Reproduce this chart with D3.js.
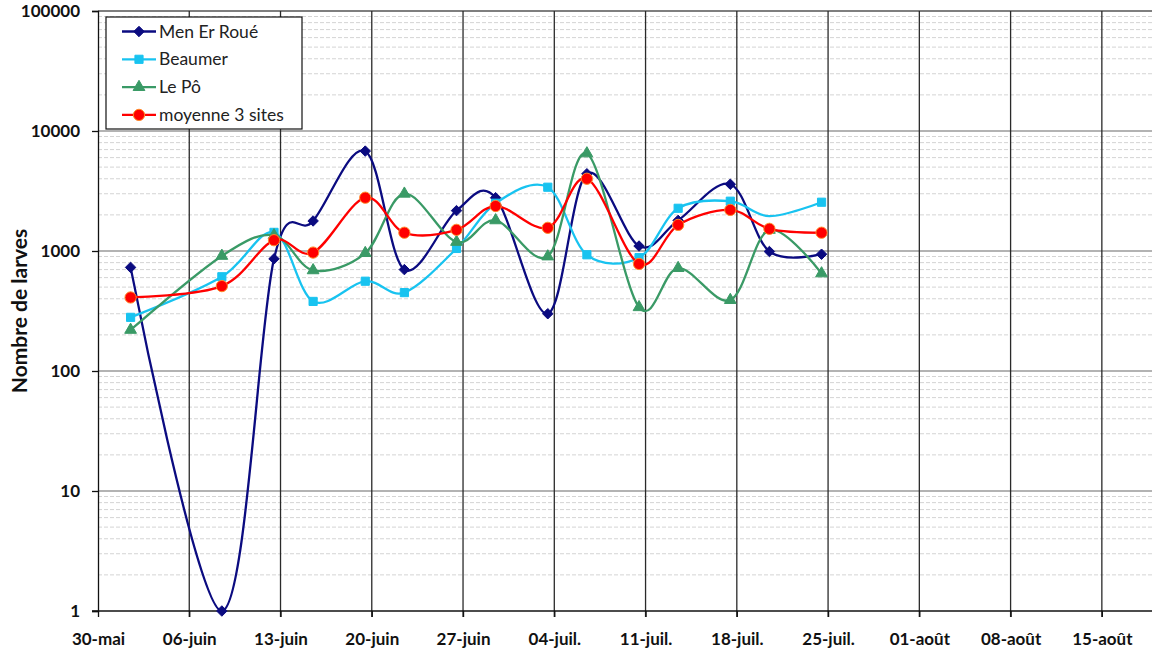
<!DOCTYPE html>
<html>
<head>
<meta charset="utf-8">
<script src="https://cdn.jsdelivr.net/npm/d3@7"></script>
<style>
  body { margin: 0; background: #fff; }
  text { font-family: Lato, "Open Sans", sans-serif; }
</style>
</head>
<body>
<div id="chart"></div>
<script>
// sample dates (day/month) and larvae counts per site
const dates = ["2021-06-01", "2021-06-08", "2021-06-12", "2021-06-15", "2021-06-19", "2021-06-22", "2021-06-26",
               "2021-06-29", "2021-07-03", "2021-07-06", "2021-07-10", "2021-07-13", "2021-07-17", "2021-07-20", "2021-07-24"];
const menErRoue = [730, 1, 860, 1780, 6800, 700, 2170, 2780, 300, 4400, 1100, 1800, 3600, 990, 940];
const beaumer   = [280, 610, 1430, 380, 560, 450, 1050, 2500, 3400, 930, 880, 2270, 2600, 1950, 2550];
const lePo      = [220, 910, 1350, 690, 960, 3000, 1190, 1800, 900, 6500, 340, 720, 390, 1500, 650];
const moyenne   = [410, 510, 1230, 970, 2780, 1420, 1500, 2370, 1560, 4000, 780, 1650, 2200, 1530, 1420];
const beaumerNoMarker = [13];   // point drawn without marker in the original

const seriesNames = ["Men Er Roué", "Beaumer", "Le Pô", "moyenne 3 sites"];
const yTicks = [1, 10, 100, 1000, 10000, 100000];
const xStart = "2021-05-30", xLastTick = "2021-08-15", xEnd = "2021-08-19";

const width = 1152, height = 652;
const margin = {top: 11, right: -2, bottom: 40, left: 98};

const svg = d3.select("#chart").append("svg")
    .attr("width", width)
    .attr("height", height);

const parse = d3.timeParse("%Y-%m-%d");
const fr = d3.timeFormatLocale({
    dateTime: "%A %e %B %Y à %X", date: "%d/%m/%Y", time: "%H:%M:%S", periods: ["AM", "PM"],
    days: ["dimanche", "lundi", "mardi", "mercredi", "jeudi", "vendredi", "samedi"],
    shortDays: ["dim.", "lun.", "mar.", "mer.", "jeu.", "ven.", "sam."],
    months: ["janvier", "février", "mars", "avril", "mai", "juin", "juillet", "août", "septembre", "octobre", "novembre", "décembre"],
    shortMonths: ["janv.", "févr.", "mars", "avr.", "mai", "juin", "juil.", "août", "sept.", "oct.", "nov.", "déc."]
});
const fmt = fr.format("%d-%b");

const x = d3.scaleTime()
    .domain([parse(xStart), parse(xEnd)])
    .range([margin.left, width - margin.right]);
const y = d3.scaleLog()
    .domain([1, 100000])
    .range([height - margin.bottom - 1, margin.top]);

// Excel date axis: points sit in the middle of their day
const xPos = d => x(d3.timeHour.offset(parse(d), 12));

// weekly ticks from 30-mai to 15-août
const weekTicks = [];
for (let t = parse(xStart); t <= parse(xLastTick); t = d3.timeDay.offset(t, 7)) weekTicks.push(t);

// minor grid (2..9 of each decade)
const minor = [];
for (let p = 0; p < 5; p++) for (let k = 2; k <= 9; k++) minor.push(k * Math.pow(10, p));

const grid = svg.append("g");
grid.selectAll(".minor").data(minor).enter().append("line")
    .attr("x1", margin.left).attr("x2", width)
    .attr("y1", d => y(d)).attr("y2", d => y(d))
    .attr("stroke", "#d4d4d4").attr("stroke-width", 1)
    .attr("stroke-dasharray", "4,2");
grid.selectAll(".major").data(yTicks.slice(1)).enter().append("line")
    .attr("x1", margin.left).attr("x2", width)
    .attr("y1", d => y(d)).attr("y2", d => y(d))
    .attr("stroke", d => d === 100000 ? "#555" : "#9a9a9a").attr("stroke-width", 1.3);
grid.selectAll(".vert").data(weekTicks.slice(1)).enter().append("line")
    .attr("x1", d => x(d)).attr("x2", d => x(d))
    .attr("y1", margin.top).attr("y2", y(1) + 6)
    .attr("stroke", "#2a2a2a").attr("stroke-width", 1.3);

// axes
const yAxis = d3.axisLeft(y).tickValues(yTicks).tickFormat(d3.format("d")).tickSize(6).tickPadding(12);
const gy = svg.append("g").attr("transform", "translate(" + margin.left + ",0)").call(yAxis);
gy.select(".domain").attr("stroke", "#111").attr("stroke-width", 1.3);
gy.selectAll(".tick line").attr("stroke", "#111").attr("stroke-width", 1.3);
gy.selectAll("text").attr("font-size", 17).attr("font-weight", "bold").attr("fill", "#111")
    .attr("font-family", "Lato, sans-serif");

const xAxis = d3.axisBottom(x).tickValues(weekTicks).tickFormat(fmt).tickSize(6).tickPadding(16);
const gx = svg.append("g").attr("transform", "translate(0," + y(1) + ")").call(xAxis);
gx.select(".domain").attr("d", "M" + (margin.left - 6) + ",0H" + width).attr("stroke", "#111").attr("stroke-width", 1.3);
gx.selectAll(".tick line").attr("stroke", "#111").attr("stroke-width", 1.3);
gx.selectAll("text").attr("font-size", 17).attr("font-weight", "bold").attr("fill", "#111")
    .attr("font-family", "Lato, sans-serif");

svg.append("text")
    .attr("transform", "translate(27," + ((margin.top + y(1)) / 2) + ") rotate(-90)")
    .attr("text-anchor", "middle")
    .attr("font-size", 21).attr("font-weight", "bold").attr("fill", "#111")
    .text("Nombre de larves");

// series
const series = [
    {name: seriesNames[0], values: menErRoue, color: "#0b0b80", marker: "diamond"},
    {name: seriesNames[1], values: beaumer, color: "#18c3f0", marker: "square", skip: beaumerNoMarker},
    {name: seriesNames[2], values: lePo, color: "#3a9a66", marker: "triangle"},
    {name: seriesNames[3], values: moyenne, color: "#ff0000", marker: "circle"}
];

const symbols = {
    diamond: d3.symbol().type(d3.symbolDiamond2).size(70),
    square: d3.symbol().type(d3.symbolSquare2).size(85),
    triangle: d3.symbol().type(d3.symbolTriangle).size(60),
    circle: d3.symbol().type(d3.symbolCircle).size(100)
};

const line = d3.line()
    .x((v, i) => xPos(dates[i]))
    .y(v => y(v))
    .curve(d3.curveCardinal.tension(0));

function drawMarker(sel, s) {
    sel.append("path")
        .attr("d", symbols[s.marker]())
        .attr("fill", s.color)
        .attr("stroke", s.marker === "circle" ? "#ff8a2a" : s.color)
        .attr("stroke-width", 1);
}

series.forEach(s => {
    const g = svg.append("g");
    g.append("path")
        .attr("d", line(s.values))
        .attr("fill", "none")
        .attr("stroke", s.color)
        .attr("stroke-width", 2.3);
    s.values.forEach((v, i) => {
        if (s.skip && s.skip.includes(i)) return;
        const m = g.append("g").attr("transform", "translate(" + xPos(dates[i]) + "," + y(v) + ")");
        drawMarker(m, s);
    });
});

// legend
const legend = svg.append("g").attr("transform", "translate(106,17)");
legend.append("rect")
    .attr("width", 196).attr("height", 112)
    .attr("fill", "#fff").attr("stroke", "#111").attr("stroke-width", 1.2);
series.forEach((s, i) => {
    const row = legend.append("g").attr("transform", "translate(0," + (14.5 + i * 27.8) + ")");
    row.append("line").attr("x1", 16).attr("x2", 50)
        .attr("stroke", s.color).attr("stroke-width", 2.3);
    drawMarker(row.append("g").attr("transform", "translate(33,0)"), s);
    row.append("text").attr("x", 53).attr("y", 6)
        .attr("font-size", 17.5).attr("fill", "#222")
        .text(s.name);
});
</script>
</body>
</html>
